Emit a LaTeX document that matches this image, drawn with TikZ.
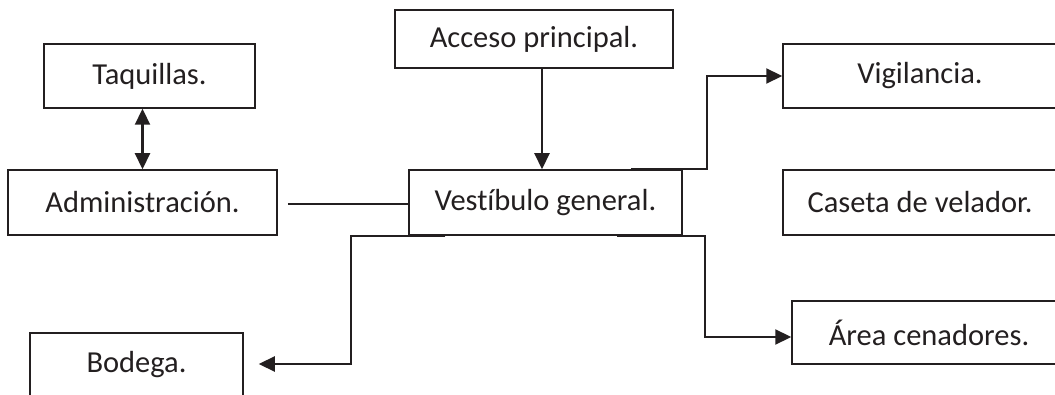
\documentclass[tikz,border=0pt]{standalone}
\usepackage{fontspec}
\setmainfont{Carlito}[RawFeature=-liga]
\usetikzlibrary{arrows.meta,calc}
\definecolor{ink}{HTML}{231F20}
\begin{document}
\begin{tikzpicture}[x=1pt,y=-1pt,
  box/.style={draw=ink,line width=1.5pt,rectangle,inner sep=0pt,align=center,
    font=\fontsize{30.5}{35}\selectfont,text=ink},
  conn/.style={draw=ink,line width=2.2pt},
  arr/.style={conn,-{Triangle[length=16pt,width=15pt]}},
  darr/.style={conn,{Triangle[length=16pt,width=15pt]}-{Triangle[length=16pt,width=15pt]}}]
\useasboundingbox (0,0) rectangle (1055,395);
\node[box,minimum width=211pt,minimum height=64pt] (taq) at (149.5,76) {Taquillas.};
\node[box,minimum width=269pt,minimum height=65pt] (adm) at (142.5,202.5) {Administración.};
\node[box,minimum width=278pt,minimum height=58pt] (acc) at (534,39) {Acceso principal.};
\node[box,minimum width=273pt,minimum height=65pt] (ves) at (545.5,202.5) {Vestíbulo general.};
\node[box,minimum width=274pt,minimum height=64pt] (vig) at (920,76) {Vigilancia.};
\node[box,minimum width=274pt,minimum height=65pt] (cas) at (920,202.5) {Caseta de velador.};
\node[box,minimum width=274pt,minimum height=63pt] (are) at (929,332.5) {Área cenadores.};
\node[box,minimum width=213pt,minimum height=64pt] (bod) at (136.5,365) {Bodega.};
\draw[darr] (adm.north |- taq.south) -- (adm.north);
\draw[conn] ($(adm.east)+(10,1.5)$) -- (ves.west |- 0,204);
\draw[arr] ($(acc.south)+(8,0)$) -- ($(ves.north)+(-3.5,0)$);
\draw[arr] ($(ves.north east)+(-52,0)$) -- ($(ves.north east)+(24,0)$) |- (vig.west);
\draw[arr] ($(ves.south east)+(-66,0)$) -- ($(ves.south east)+(22,0)$) |- ($(are.west)+(0,4.5)$);
\draw[arr] ($(ves.south west)+(37,0)$) -- ($(ves.south west)+(-57,0)$) |- ($(bod.east)+(15,-1)$);
\end{tikzpicture}
\end{document}
